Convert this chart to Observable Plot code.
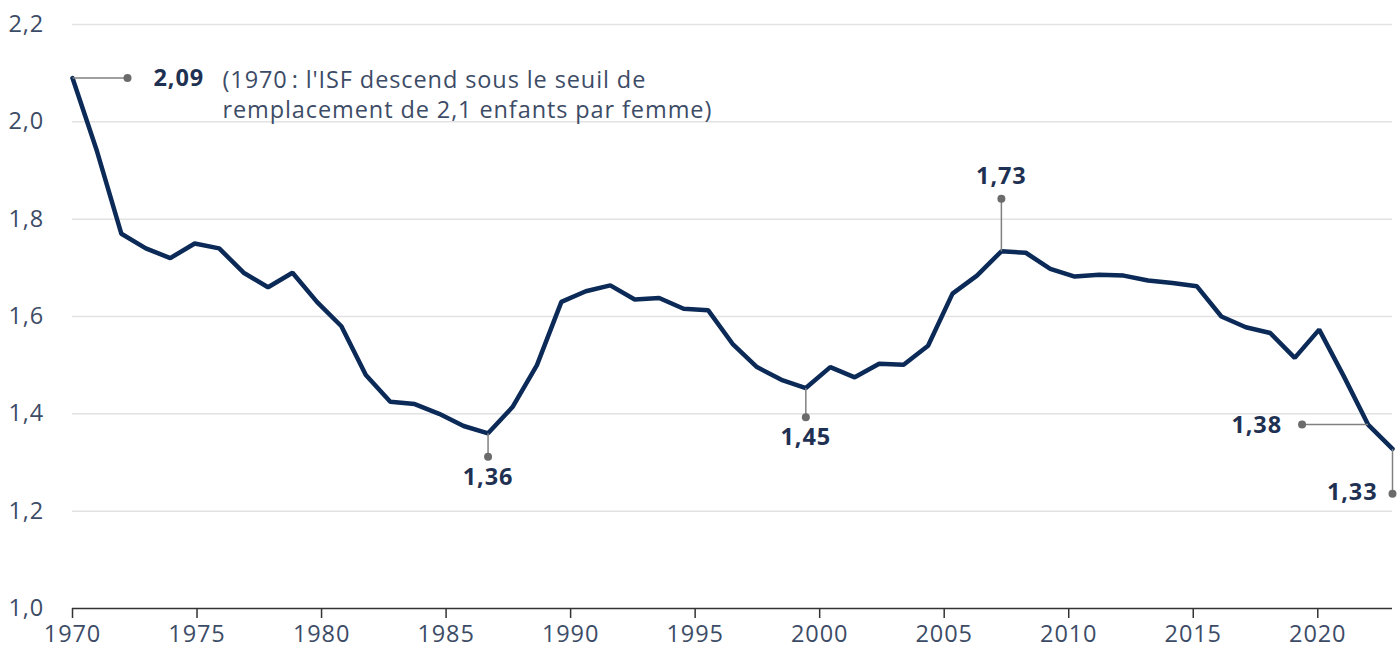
<!DOCTYPE html>
<html>
<head>
<meta charset="utf-8">
<script src="https://cdn.jsdelivr.net/npm/d3@7"></script>
<script src="https://cdn.jsdelivr.net/npm/@observablehq/plot@0.6"></script>
<style>
  html, body { margin: 0; padding: 0; background: #fff; }
  #chart svg { display: block; }
  #chart svg text { letter-spacing: 0.9px; }
</style>
</head>
<body>
<div id="chart"></div>
<script>
// Indice synthétique de fécondité (ISF), 1970–2024
const years = d3.range(1970, 2025);
const isf = [
  2.09, 1.94, 1.77, 1.74, 1.72, 1.75, 1.74, 1.69, 1.66, 1.69,
  1.63, 1.58, 1.48, 1.425, 1.42, 1.40, 1.375, 1.36, 1.414, 1.50,
  1.63, 1.652, 1.664, 1.635, 1.638, 1.616, 1.613, 1.544, 1.496, 1.47,
  1.453, 1.496, 1.475, 1.503, 1.501, 1.54, 1.647, 1.684, 1.734, 1.731,
  1.698, 1.682, 1.686, 1.684, 1.674, 1.669, 1.662, 1.60, 1.578, 1.566,
  1.515, 1.573, 1.478, 1.378, 1.328
];
const data = years.map((year, i) => ({year, isf: isf[i]}));

const yTicks = [1.0, 1.2, 1.4, 1.6, 1.8, 2.0, 2.2];
const xTickYears = [1970, 1975, 1980, 1985, 1990, 1995, 2000, 2005, 2010, 2015, 2020];

const noteLines = ["(1970\u202F: l'ISF descend sous le seuil de", "remplacement de 2,1 enfants par femme)"];

const fmt = d => d.toFixed(1).replace(".", ",");
const val = y => isf[years.indexOf(y)];

// The original axis spaces its 1970–2020 ticks over 53 intervals while
// the line spans 54 yearly intervals; reproduce that tick placement.
const tickPos = xTickYears.map(t => 1970 + (t - 1970) * 54 / 53);
const tickLabel = new Map(tickPos.map((p, i) => [p, String(xTickYears[i])]));

// annotation geometry (leader end points, data units)
const ann = [
  {label: "2,09", x1: 1970, y1: val(1970), x2: 1972.25, y2: val(1970), dx: 26, dy: 0, anchor: "start"},
  {label: "1,36", x1: 1987, y1: val(1987), x2: 1987, y2: 1.312, dx: 0, dy: 21, anchor: "middle"},
  {label: "1,45", x1: 2000, y1: val(2000), x2: 2000, y2: 1.393, dx: 0, dy: 20, anchor: "middle"},
  {label: "1,73", x1: 2008, y1: val(2008), x2: 2008, y2: 1.842, dx: 0, dy: -22, anchor: "middle"},
  {label: "1,38", x1: 2023, y1: val(2023), x2: 2020.3, y2: val(2023), dx: -20, dy: 1, anchor: "end"},
  {label: "1,33", x1: 2024, y1: val(2024), x2: 2024, y2: 1.236, dx: -15, dy: -1, anchor: "end"}
];

const navy = "#0b2a57";
const labelColor = "#3d4c66";
const boldColor = "#1f3152";
const fs = 23.5;

const chart = Plot.plot({
  width: 1400,
  height: 649,
  marginLeft: 72,
  marginRight: 8,
  marginTop: 24,
  marginBottom: 41,
  style: {fontFamily: "'Open Sans', 'Noto Sans', sans-serif", background: "#fff"},
  x: {domain: [1970, 2024], axis: null},
  y: {domain: [1.0, 2.2], axis: null},
  marks: [
    Plot.ruleY(yTicks.filter(d => d > 1), {stroke: "#e2e2e2", strokeWidth: 1.5}),
    Plot.axisY({ticks: yTicks, tickFormat: fmt, tickSize: 0, tickPadding: 0, textAnchor: "start", dx: -64,
                fontSize: fs, fill: labelColor}),
    Plot.ruleY([1.0], {stroke: "#333", strokeWidth: 1.5}),
    Plot.axisX({ticks: tickPos, tickFormat: d => tickLabel.get(d), tickSize: 10, tickPadding: 7,
                stroke: "#333", strokeWidth: 1.5, fontSize: fs, fill: labelColor}),
    Plot.line(data, {x: "year", y: "isf", stroke: navy, strokeWidth: 4.5, strokeLinejoin: "miter"}),
    Plot.link(ann, {x1: "x1", y1: "y1", x2: "x2", y2: "y2", stroke: "#808080", strokeWidth: 1.5}),
    Plot.dot(ann, {x: "x2", y: "y2", r: 4, fill: "#6b6b6b"}),
    ...ann.map(a => Plot.text([a], {x: "x2", y: "y2", text: "label", dx: a.dx, dy: a.dy, textAnchor: a.anchor,
                fontSize: fs, fontWeight: "bold", fill: boldColor})),
    Plot.text([noteLines.join("\n")], {x: 1970, y: val(1970), dx: 150, dy: 15, textAnchor: "start",
                lineHeight: 1.3, fontSize: fs, fill: labelColor})
  ]
});

document.getElementById("chart").appendChild(chart);
</script>
</body>
</html>
